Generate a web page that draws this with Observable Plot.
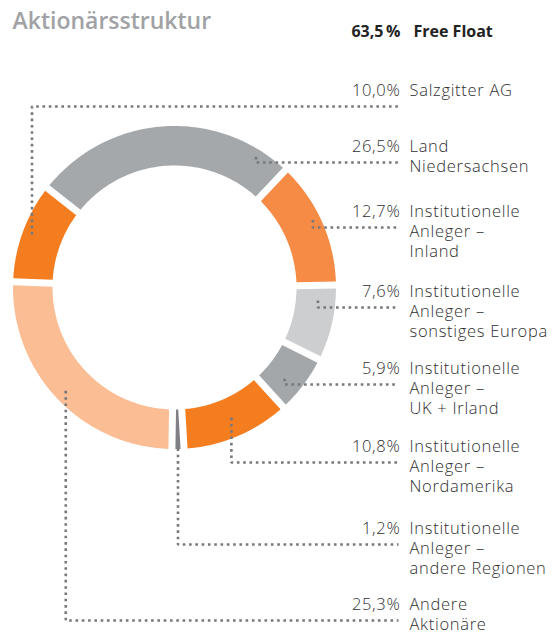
<!DOCTYPE html>
<html>
<head>
<meta charset="utf-8">
<script src="https://cdn.jsdelivr.net/npm/d3@7"></script>
<script src="https://cdn.jsdelivr.net/npm/@observablehq/plot@0.6"></script>
<style>
  html, body { margin: 0; padding: 0; background: #fff; }
  #chart svg { display: block; }
  #chart svg .lbl text { letter-spacing: 0.7px; }
</style>
</head>
<body>
<div id="chart"></div>
<script>
// ---- data ----
const title = "Aktionärsstruktur";
const freeFloatShare = 63.5;
const freeFloatLabel = "Free Float";
const shares = [10.0, 26.5, 12.7, 7.6, 5.9, 10.8, 1.2, 25.3];
const names = [
  "Salzgitter AG",
  "Land Niedersachsen",
  "Institutionelle Anleger – Inland",
  "Institutionelle Anleger – sonstiges Europa",
  "Institutionelle Anleger – UK + Irland",
  "Institutionelle Anleger – Nordamerika",
  "Institutionelle Anleger – andere Regionen",
  "Andere Aktionäre"
];
const nameLines = [
  ["Salzgitter AG"],
  ["Land", "Niedersachsen"],
  ["Institutionelle", "Anleger –", "Inland"],
  ["Institutionelle", "Anleger –", "sonstiges Europa"],
  ["Institutionelle", "Anleger –", "UK + Irland"],
  ["Institutionelle", "Anleger –", "Nordamerika"],
  ["Institutionelle", "Anleger –", "andere Regionen"],
  ["Andere", "Aktionäre"]
];
const colors = ["#F47D20", "#A5A8AB", "#F68B45", "#CDCED0", "#A4A7AA", "#F47D20", "#7E8084", "#FABD94"];

// ---- layout ----
const W = 553, H = 633;
const cx = 174, cy = 287, R = 161.5, r0 = 122, gap = 7, startDeg = -88;
const rowBaseline = [95, 151, 216, 296, 373, 451, 533, 609];
const ffBaseline = 36;
const anchorFrac = [0.51, 0.88, 0.45, 0.22, 0.62, 0.48, 0.5, 0.5];
const anchorR = [152, 154, 154, 144, 143, 142, 161, 150];
const leaderOffset = 11, lineEndX = 398, pctX = 400, nameX = 409, lineH = 20;
const fs = 16.5;
const font = "'Open Sans', Lato, sans-serif";
const textColor = "#2f2f31";

const fmt = (v, sep = "") => d3.format(".1f")(v).replace(".", ",") + sep + "%";
const toRad = d => d * Math.PI / 180;
const pt = (a, r) => [cx + r * Math.sin(a), cy - r * Math.cos(a)];

// segment polygons
const total = d3.sum(shares);
let acc = 0;
const segs = shares.map((v, i) => {
  const a0 = toRad(startDeg) + acc / total * 2 * Math.PI;
  acc += v;
  const a1 = toRad(startDeg) + acc / total * 2 * Math.PI;
  return {i, a0, a1};
});
const polyPts = [];
segs.forEach(({i, a0, a1}) => {
  const dO = Math.asin(gap / 2 / R), dI = Math.asin(gap / 2 / r0);
  const n = 80;
  for (let k = 0; k <= n; k++) {
    const a = (a0 + dO) + (a1 - a0 - 2 * dO) * k / n;
    const [x, y] = pt(a, R);
    polyPts.push({name: names[i], color: colors[i], x, y});
  }
  for (let k = 0; k <= n; k++) {
    const a = (a1 - dI) - (a1 - a0 - 2 * dI) * k / n;
    const [x, y] = pt(a, r0);
    polyPts.push({name: names[i], color: colors[i], x, y});
  }
});

// leader lines
const leaderPts = [];
segs.forEach(({i, a0, a1}) => {
  const a = a0 + (a1 - a0) * anchorFrac[i];
  const [ax, ay] = pt(a, anchorR[i]);
  const ly = rowBaseline[i] + leaderOffset;
  leaderPts.push({name: names[i], x: ax, y: ay});
  leaderPts.push({name: names[i], x: ax, y: ly});
  leaderPts.push({name: names[i], x: lineEndX, y: ly});
});

// labels (one multi-line text per category; y = baseline of the last line)
const pctLabels = shares.map((v, i) => ({text: fmt(v), x: pctX, y: rowBaseline[i]}));
const nameLabels = nameLines.map((lines, i) => ({
  text: lines.join("\n"), x: nameX, y: rowBaseline[i] + (lines.length - 1) * lineH
}));

const chart = Plot.plot({
  width: W, height: H,
  margin: 0,
  x: {domain: [0, W], range: [0, W], axis: null},
  y: {domain: [0, H], range: [0, H], axis: null},
  color: {type: "identity"},
  style: {fontFamily: font, background: "#fff"},
  marks: [
    Plot.line(polyPts, {x: "x", y: "y", z: "name", fill: "color", stroke: null, curve: "linear"}),
    Plot.line(leaderPts, {x: "x", y: "y", z: "name", stroke: "#76787c", strokeWidth: 2.6,
      strokeDasharray: "2.6 3.7", strokeLinecap: "butt", strokeLinejoin: "miter", curve: "linear"}),
    Plot.text([title], {x: () => 12, y: () => 28, text: d => d, textAnchor: "start", lineAnchor: "bottom",
      fontSize: 23, fontWeight: 600, fill: "#a0a2a5", fontFamily: font}),
    Plot.text([fmt(freeFloatShare, "\u2009")], {x: () => pctX, y: () => ffBaseline, text: d => d, textAnchor: "end", lineAnchor: "bottom",
      fontSize: 16, fontWeight: 700, fill: "#222", fontFamily: font}),
    Plot.text([freeFloatLabel], {x: () => 413, y: () => ffBaseline, text: d => d, textAnchor: "start", lineAnchor: "bottom",
      fontSize: 16, fontWeight: 700, fill: "#222", fontFamily: font}),
    Plot.text(pctLabels, {x: "x", y: "y", text: "text", textAnchor: "end", lineAnchor: "bottom",
      fontSize: fs, fontWeight: 300, fill: textColor, fontFamily: font, className: "lbl"}),
    Plot.text(nameLabels, {x: "x", y: "y", text: "text", textAnchor: "start", lineAnchor: "bottom",
      lineHeight: lineH / fs, fontSize: fs, fontWeight: 300, fill: textColor, fontFamily: font, className: "lbl"})
  ]
});
document.getElementById("chart").appendChild(chart);
</script>
</body>
</html>
